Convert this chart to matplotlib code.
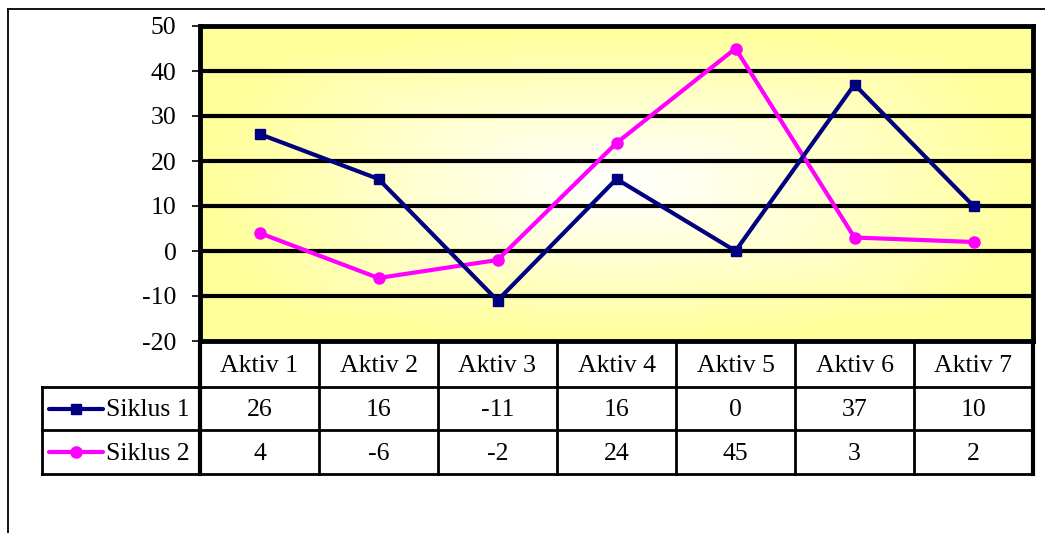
import numpy as np
import matplotlib
matplotlib.use('Agg')
import matplotlib.pyplot as plt

# chart data
categories = ['Aktiv 1', 'Aktiv 2', 'Aktiv 3', 'Aktiv 4', 'Aktiv 5', 'Aktiv 6', 'Aktiv 7']
siklus_1 = [26, 16, -11, 16, 0, 37, 10]
siklus_2 = [4, -6, -2, 24, 45, 3, 2]
series_names = ['Siklus 1', 'Siklus 2']
y_ticks = [-20, -10, 0, 10, 20, 30, 40, 50]

W, H = 1045, 533
FS = 18.5
plt.rcParams['font.family'] = ['Liberation Serif', 'DejaVu Serif']

fig = plt.figure(figsize=(W / 100, H / 100), dpi=100)
fig.patch.set_facecolor('white')

# plot area in pixels
px_l, px_t, px_r, px_b = 200, 26, 1033, 341
ax = fig.add_axes([px_l / W, 1 - px_b / H, (px_r - px_l) / W, (px_b - px_t) / H])

n = len(categories)
ax.set_xlim(-0.5, n - 0.5)
ax.set_ylim(-20, 50)

# radial gradient background: white centre to yellow edges
gx, gy = np.meshgrid(np.linspace(-1, 1, 400), np.linspace(-1, 1, 200))
r = np.clip(np.maximum(np.abs(gx), np.abs(gy)) * 0.5 + np.hypot(gx, gy) * 0.5, 0, 1)
edge = np.array([1.0, 1.0, 0.6])
centre = np.array([1.0, 1.0, 1.0])
t = r[..., None] ** 1.1
img = centre * (1 - t) + edge * t
ax.imshow(img, extent=(-0.5, n - 0.5, -20, 50), aspect='auto', zorder=0)

for yv in y_ticks[1:-1]:
    ax.axhline(yv, color='black', lw=3, zorder=1)

x = np.arange(n)
ax.plot(x, siklus_1, color='#000080', lw=3, marker='s', ms=7, zorder=3,
        solid_joinstyle='miter')
ax.plot(x, siklus_2, color='#FF00FF', lw=3, marker='o', ms=8, zorder=2)

ax.set_yticks(y_ticks)
ax.set_yticklabels([str(v) for v in y_ticks], fontsize=FS)
ax.set_xticks([])
ax.tick_params(axis='y', direction='out', length=6, width=1.2, pad=11)
for side, sp in ax.spines.items():
    sp.set_linewidth(3.5)
    sp.set_color('black')
ax.spines['bottom'].set_visible(False)

# overlay for the data table and chart frame
ov = fig.add_axes([0, 0, 1, 1], facecolor='none')
ov.set_xlim(0, W)
ov.set_ylim(H, 0)
ov.axis('off')

# outer chart frame (top and left)
ov.plot([8, W], [9, 9], color='black', lw=1.3)
ov.plot([8, 8], [9, H], color='black', lw=1.3)

col_w = (px_r - px_l) / n
row_tops = [341, 387, 430, 474]
leg_l = 42
lw_tab = 2

# horizontal table lines
ov.plot([px_l, px_r], [row_tops[0], row_tops[0]], color='black', lw=3.5)
for yv in row_tops[1:]:
    ov.plot([leg_l, px_r], [yv, yv], color='black', lw=lw_tab)
# vertical lines
ov.plot([leg_l, leg_l], [row_tops[1], row_tops[3]], color='black', lw=lw_tab)
for i in range(n + 1):
    xv = px_l + i * col_w
    ov.plot([xv, xv], [row_tops[0], row_tops[3]], color='black',
            lw=3 if i in (0, n) else lw_tab)

# header and values
for i, cat in enumerate(categories):
    cx = px_l + (i + 0.5) * col_w
    ov.text(cx, (row_tops[0] + row_tops[1]) / 2 + 2, cat, ha='center', va='center', fontsize=FS)
    ov.text(cx, (row_tops[1] + row_tops[2]) / 2 + 2, str(siklus_1[i]), ha='center', va='center', fontsize=FS)
    ov.text(cx, (row_tops[2] + row_tops[3]) / 2 + 2, str(siklus_2[i]), ha='center', va='center', fontsize=FS)

# legend keys in the table
styles = [('#000080', 's', 7), ('#FF00FF', 'o', 8)]
for k, (name, (c, m, ms)) in enumerate(zip(series_names, styles)):
    yc = (row_tops[k + 1] + row_tops[k + 2]) / 2
    ov.plot([49, 103], [yc, yc], color=c, lw=3, solid_capstyle='round')
    ov.plot([76], [yc], color=c, marker=m, ms=ms)
    ov.text(106, yc + 2, name, ha='left', va='center', fontsize=FS)

fig.savefig('out.png', dpi=100)
